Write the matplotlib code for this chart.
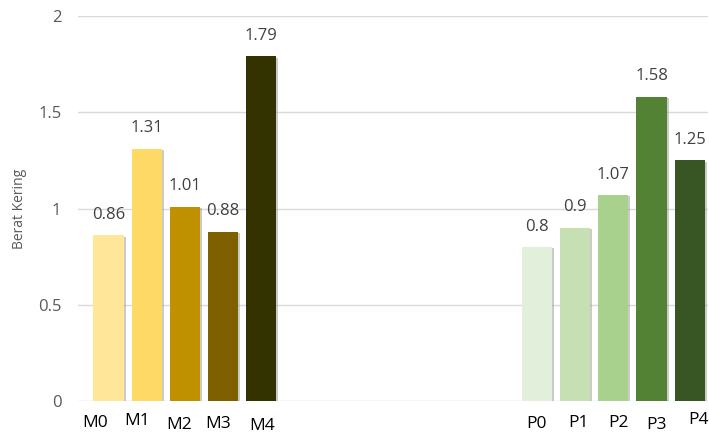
import matplotlib
matplotlib.use("Agg")
import matplotlib.pyplot as plt
import matplotlib.patheffects as pe
import numpy as np

m_labels = ["M0", "M1", "M2", "M3", "M4"]
m_values = [0.86, 1.31, 1.01, 0.88, 1.79]
m_colors = ["#FFE699", "#FFD966", "#BF9000", "#7F6000", "#333300"]

p_labels = ["P0", "P1", "P2", "P3", "P4"]
p_values = [0.8, 0.9, 1.07, 1.58, 1.25]
p_colors = ["#E2EFDA", "#C6E0B4", "#A9D18E", "#548235", "#375623"]

yticks = [0, 0.5, 1, 1.5, 2]
y_label = "Berat Kering"

# per-label nudges (pixels) of the manually placed category labels
label_dx = [-13, -10, -6, -5, 1, 0, 3.5, 5, 5, 9]
label_dy = [-22, -20, -24, -23, -25, -23, -22, -22, -24, -19]

plt.rcParams['font.family'] = ['Open Sans', 'DejaVu Sans']

fig = plt.figure(figsize=(7.09, 4.34), dpi=100)
ax = fig.add_axes([78/709, 1 - 401/434, 630/709, 385/434])

m_x = np.arange(len(m_values))
p_x = 11.22 + np.arange(len(p_values))
xs = np.concatenate([m_x, p_x])
vals = m_values + p_values
cols = m_colors + p_colors
labels = m_labels + p_labels

bars = ax.bar(xs, vals, width=0.79, color=cols, zorder=3)
for b in bars:
    b.set_path_effects([pe.SimplePatchShadow(offset=(1.5, -1), shadow_rgbFace="#999999", alpha=0.5), pe.Normal()])

for x, v in zip(xs, vals):
    ax.annotate(f"{v:g}", (x, v), xytext=(0, 9), textcoords="offset points",
                ha="center", va="bottom", fontsize=12, color="#404040")

for x, lab, dx, dy in zip(xs, labels, label_dx, label_dy):
    ax.annotate(lab, (x, 0), xycoords=("data", "axes fraction"),
                xytext=(dx, dy), textcoords="offset pixels",
                ha="center", va="center", fontsize=12.5, color="#000000")

ax.set_ylim(0, 2)
ax.set_xlim(-0.8, 15.7)
ax.set_yticks(yticks)
ax.set_yticklabels([f"{t:g}" for t in yticks])
ax.grid(axis="y", color="#d9d9d9", linewidth=1, zorder=0)
for s in ax.spines.values():
    s.set_visible(False)
ax.tick_params(axis="y", length=0, pad=12, labelsize=12, labelcolor="#595959")
ax.set_xticks([])
ax.set_ylabel(y_label, fontsize=10, color="#595959", labelpad=8)

fig.savefig("out.png", dpi=100)
